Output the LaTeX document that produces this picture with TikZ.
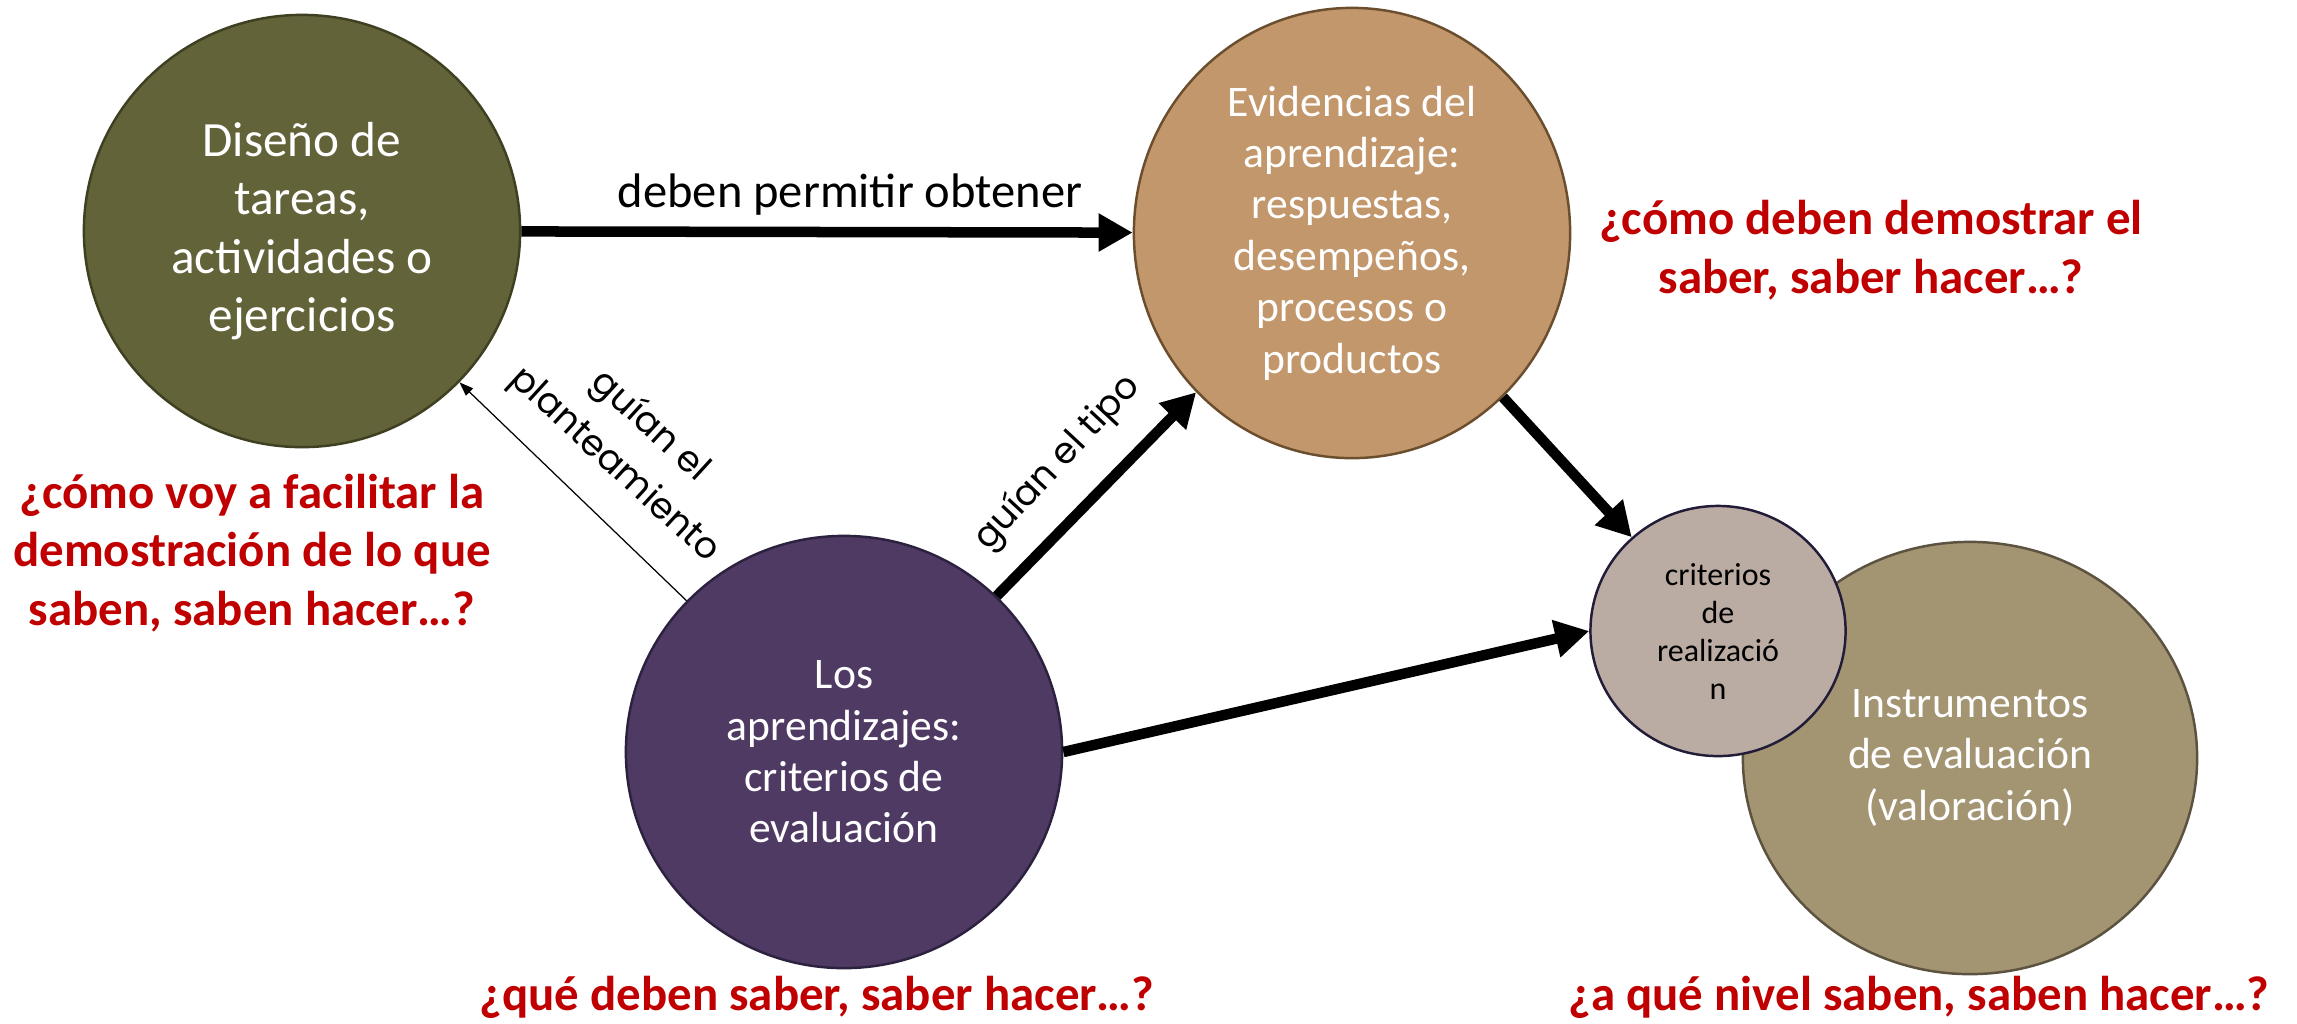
\documentclass[tikz,border=0pt]{standalone}
\usepackage{fontspec}
\setmainfont{Carlito}
\newfontfamily\gothic{Poppins}
\usetikzlibrary{shapes.geometric,arrows.meta}
\definecolor{disfill}{HTML}{63633A}
\definecolor{disline}{HTML}{3F3F22}
\definecolor{evifill}{HTML}{C3976C}
\definecolor{eviline}{HTML}{6B4E2E}
\definecolor{purfill}{HTML}{4F3A64}
\definecolor{purline}{HTML}{2C2240}
\definecolor{crifill}{HTML}{BAABA3}
\definecolor{criline}{HTML}{221C38}
\definecolor{insfill}{HTML}{A39472}
\definecolor{insline}{HTML}{5B5240}
\definecolor{qred}{HTML}{C00000}
\tikzset{
  bubble/.style={ellipse, line width=0.7pt, inner sep=0pt},
  bigtext/.style={align=center, text=white, font=\fontsize{14}{16.6}\selectfont},
  midtext/.style={align=center, text=white, font=\fontsize{12.4}{14.6}\selectfont},
  smalltext/.style={align=center, text=black, font=\fontsize{9.1}{10.8}\selectfont},
  question/.style={align=center, text=qred, font=\bfseries\fontsize{13.9}{16.6}\selectfont},
  linklabel/.style={align=center, text=black, font=\fontsize{13.8}{15}\selectfont},
  rotlabel/.style={align=center, text=black, font=\gothic\fontsize{10.3}{15}\selectfont},
  thickarrow/.style={line width=1.05mm, -{Triangle[length=3.4mm,width=3.6mm]}},
  thinarrow/.style={line width=0.35pt, -{Triangle[length=1.4mm,width=1mm]}}
}
\begin{document}
\begin{tikzpicture}[x=0.01cm,y=-0.01cm]
\useasboundingbox[fill=white] (0,0) rectangle (2297,1023);

\node[bubble, fill=insfill, draw=insline, minimum width=4.54cm, minimum height=4.32cm,
  label={[midtext]center:Instrumentos\\de evaluación\\(valoración)}] (ins) at (1970,758) {};
\node[bubble, fill=crifill, draw=criline, minimum width=2.55cm, minimum height=2.5cm,
  label={[smalltext]center:criterios\\de\\realizació\\n}] (cri) at (1718,631) {};
\node[bubble, fill=disfill, draw=disline, minimum width=4.36cm, minimum height=4.32cm,
  label={[bigtext]center:Diseño de\\tareas,\\actividades o\\ejercicios}] (dis) at (302,231) {};
\node[bubble, fill=evifill, draw=eviline, minimum width=4.36cm, minimum height=4.5cm,
  label={[midtext]center:Evidencias del\\aprendizaje:\\respuestas,\\desempeños,\\procesos o\\productos}] (evi) at (1352,233) {};
\node[bubble, fill=purfill, draw=purline, minimum width=4.36cm, minimum height=4.32cm,
  label={[midtext]center:Los\\aprendizajes:\\criterios de\\evaluación}] (pur) at (844,752) {};

\draw[thickarrow] (dis) -- (evi);
\draw[thinarrow] (pur) -- (dis);
\draw[thickarrow] (pur) -- (evi);
\draw[thickarrow] (evi) -- (cri);
\draw[thickarrow] (pur.east) -- (cri.west);

\node[linklabel] (l1) at (850,195) {deben permitir obtener};
\node[rotlabel, rotate=-42.5] (l2) at (632,446) {guían el\\planteamiento};
\node[rotlabel, rotate=47] (l3) at (1058,463) {guían el tipo};

\node[question] (q1) at (252,553) {¿cómo voy a facilitar la\\demostración de lo que\\saben, saben hacer…?};
\node[question] (q2) at (1871,250) {¿cómo deben demostrar el\\saber, saber hacer…?};
\node[question] (q3) at (817,997) {¿qué deben saber, saber hacer…?};
\node[question] (q4) at (1919,997) {¿a qué nivel saben, saben hacer…?};
\end{tikzpicture}
\end{document}
